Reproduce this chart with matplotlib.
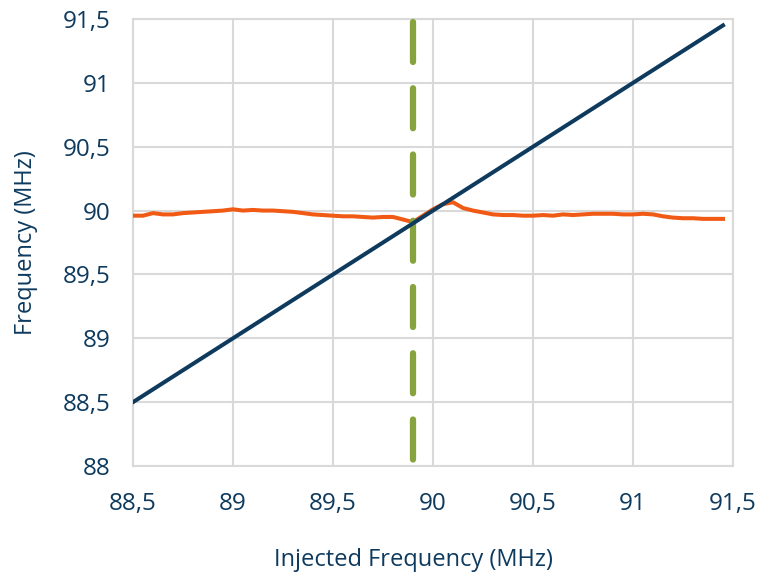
import matplotlib.pyplot as plt
import numpy as np

# injected frequency sweep (MHz)
injected = np.array([
    88.50, 88.55, 88.60, 88.65, 88.70, 88.75, 88.80, 88.85, 88.90, 88.95,
    89.00, 89.05, 89.10, 89.15, 89.20, 89.25, 89.30, 89.35, 89.40, 89.45,
    89.50, 89.55, 89.60, 89.65, 89.70, 89.75, 89.80, 89.85, 89.90, 89.95,
    90.00, 90.05, 90.10, 90.15, 90.20, 90.25, 90.30, 90.35, 90.40, 90.45,
    90.50, 90.55, 90.60, 90.65, 90.70, 90.75, 90.80, 90.85, 90.90, 90.95,
    91.00, 91.05, 91.10, 91.15, 91.20, 91.25, 91.30, 91.35, 91.40, 91.45,
])
# measured oscillator frequency (MHz)
measured = np.array([
    89.96, 89.96, 89.98, 89.97, 89.97, 89.98, 89.985, 89.99, 89.995, 90.00,
    90.01, 90.00, 90.005, 90.00, 90.00, 89.995, 89.99, 89.98, 89.97, 89.965,
    89.96, 89.955, 89.955, 89.95, 89.945, 89.95, 89.95, 89.93, 89.91, 89.96,
    90.01, 90.05, 90.065, 90.02, 90.00, 89.985, 89.97, 89.965, 89.965, 89.96,
    89.96, 89.965, 89.96, 89.97, 89.965, 89.97, 89.975, 89.975, 89.975, 89.97,
    89.97, 89.975, 89.97, 89.955, 89.945, 89.94, 89.94, 89.935, 89.935, 89.935,
])
marker_freq = 89.9

x_ticks = [88.5, 89, 89.5, 90, 90.5, 91, 91.5]
y_ticks = [88, 88.5, 89, 89.5, 90, 90.5, 91, 91.5]

navy = "#0E3A5E"
orange = "#F05A14"
green = "#86A33E"
grid_c = "#D9D9D9"

plt.rcParams["font.family"] = ["Open Sans", "DejaVu Sans"]

fig = plt.figure(figsize=(7.61, 5.76), dpi=100)
ax = fig.add_axes([133 / 761, 1 - 466 / 576, 600 / 761, 447 / 576])

ax.plot(injected, measured, color=orange, lw=2.9, zorder=3)
ax.plot([marker_freq, marker_freq], [91.48, 88.0], color=green, lw=4.5,
        dashes=(6.4, 4.2), dash_capstyle="round", clip_on=False, zorder=4)
ax.plot(injected, injected, color=navy, lw=2.9, zorder=5)

ax.set_xlim(88.5, 91.5)
ax.set_ylim(88, 91.5)
ax.set_xticks(x_ticks)
ax.set_yticks(y_ticks)
fmt = lambda v: (f"{v:g}").replace(".", ",")
ax.set_xticklabels([fmt(v) for v in x_ticks])
ax.set_yticklabels([fmt(v) for v in y_ticks])

ax.grid(True, color=grid_c, lw=1.5, zorder=0)
ax.set_axisbelow(True)
for s in ax.spines.values():
    s.set_color(grid_c)
    s.set_linewidth(1.5)
ax.tick_params(length=0, labelsize=17.5, labelcolor=navy)
ax.tick_params(axis="y", pad=16)
ax.tick_params(axis="x", pad=19)

ax.set_xlabel("Injected Frequency (MHz)", fontsize=17, color=navy,
              labelpad=23, x=0.468)
ax.set_ylabel("Frequency (MHz)", fontsize=17, color=navy, labelpad=18)

fig.savefig("out.png", dpi=100)
